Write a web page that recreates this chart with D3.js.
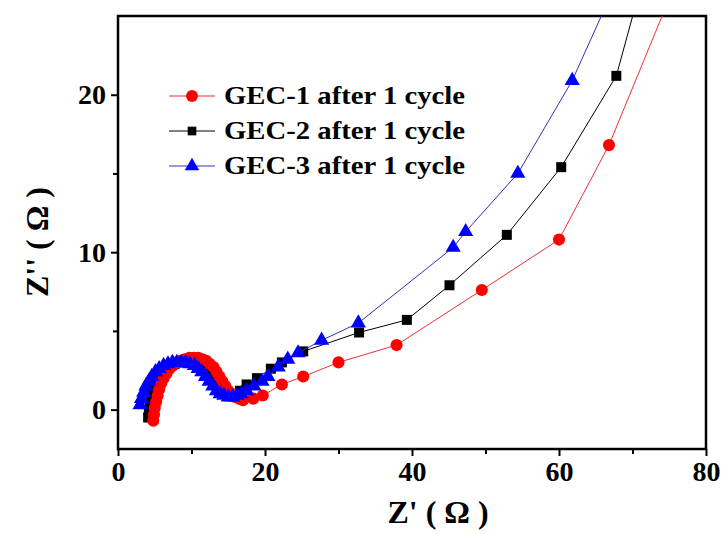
<!DOCTYPE html>
<html>
<head>
<meta charset="utf-8">
<script src="https://cdn.jsdelivr.net/npm/d3@7"></script>
<style>
  body { margin: 0; background: #fff; }
  text { font-family: "Liberation Serif", "Times New Roman", serif; font-weight: bold; }
</style>
</head>
<body>
<div id="chart"></div>
<script>
// Nyquist data: [Z', -Z'']
const gec1 = [[4.8,-0.7],[4.9,-0.3],[5.0,0.1],[5.2,0.5],[5.4,0.9],[5.6,1.3],[5.9,1.7],[6.2,2.0],[6.6,2.3],[7.0,2.6],[7.5,2.8],[8.0,3.0],[8.5,3.1],[9.1,3.2],[9.7,3.3],[10.3,3.3],[10.9,3.3],[11.5,3.2],[12.0,3.1],[12.5,2.9],[13.0,2.7],[13.4,2.4],[13.8,2.1],[14.2,1.8],[14.6,1.5],[15.0,1.2],[15.4,1.0],[15.9,0.8],[16.5,0.7],[17.0,0.6],[18.4,0.7],[19.7,0.9],[22.3,1.6],[25.2,2.1],[30.0,3.0],[37.9,4.1],[49.5,7.6],[60.0,10.8],[66.8,16.8],[76.5,27.8]];
const gec2 = [[4.1,-0.5],[4.2,-0.1],[4.3,0.3],[4.5,0.7],[4.7,1.1],[5.0,1.5],[5.3,1.8],[5.7,2.1],[6.1,2.4],[6.6,2.6],[7.1,2.8],[7.7,2.9],[8.3,3.0],[8.9,3.0],[9.5,3.0],[10.1,3.0],[10.7,2.9],[11.3,2.8],[11.8,2.6],[12.3,2.4],[12.8,2.1],[13.2,1.8],[13.7,1.5],[14.2,1.3],[14.7,1.1],[15.3,1.0],[15.9,1.0],[16.6,1.2],[17.5,1.6],[18.9,2.0],[20.8,2.6],[22.3,3.0],[25.2,3.7],[32.8,4.9],[39.3,5.7],[45.1,7.9],[52.9,11.1],[60.3,15.4],[67.8,21.2],[71.2,27.0]];
const gec3 = [[3.0,0.3],[3.2,0.7],[3.5,1.1],[3.8,1.5],[4.2,1.8],[4.6,2.1],[5.1,2.4],[5.6,2.6],[6.2,2.8],[6.8,2.9],[7.4,3.0],[8.0,3.0],[8.6,3.0],[9.2,3.0],[9.8,2.9],[10.4,2.8],[10.9,2.6],[11.4,2.4],[11.9,2.1],[12.4,1.8],[12.9,1.5],[13.4,1.2],[13.9,1.0],[14.4,0.9],[15.0,0.8],[15.6,0.8],[16.2,0.9],[16.8,1.0],[17.5,1.2],[18.5,1.5],[19.6,1.8],[20.4,2.1],[21.8,2.7],[23.1,3.2],[24.5,3.6],[27.7,4.4],[32.7,5.5],[45.6,10.3],[47.3,11.3],[54.4,15.0],[61.8,20.9],[67.5,26.8]];

const seriesNames = ["GEC-1 after 1 cycle", "GEC-2 after 1 cycle", "GEC-3 after 1 cycle"];
const xTicks = [0, 20, 40, 60, 80];
const yTicks = [0, 10, 20];

const width = 721, height = 534;
const margin = {left: 118, right: 15, top: 16, bottom: 85};

const x = d3.scaleLinear().domain([0, 80]).range([margin.left, width - margin.right]);
const y = d3.scaleLinear().domain([-2.5, 25]).range([height - margin.bottom, margin.top]);

const svg = d3.select("#chart").append("svg")
    .attr("width", width)
    .attr("height", height);

svg.append("defs").append("clipPath").attr("id", "plot")
  .append("rect")
    .attr("x", x(0)).attr("y", y(25))
    .attr("width", x(80) - x(0)).attr("height", y(-2.5) - y(25));

// axes
svg.append("g")
    .attr("transform", `translate(0,${y(-2.5)})`)
    .call(d3.axisBottom(x).tickValues(xTicks).tickSize(7).tickPadding(5).tickFormat(d3.format("d")));
svg.append("g")
    .attr("transform", `translate(${x(0)},0)`)
    .call(d3.axisLeft(y).tickValues(yTicks).tickSize(7).tickPadding(5).tickFormat(d3.format("d")));

// minor ticks
svg.append("g")
    .attr("transform", `translate(0,${y(-2.5)})`)
    .call(d3.axisBottom(x).tickValues([10, 30, 50, 70]).tickSize(5).tickFormat(""));
svg.append("g")
    .attr("transform", `translate(${x(0)},0)`)
    .call(d3.axisLeft(y).tickValues([5, 15]).tickSize(5).tickFormat(""));

svg.selectAll(".domain").remove();
svg.selectAll(".tick line").attr("stroke", "#000").attr("stroke-width", 2);
svg.selectAll(".tick text").attr("font-size", 28).attr("fill", "#000")
    .style("font-family", "'Liberation Serif', serif").style("font-weight", "bold");

// frame
svg.append("rect")
    .attr("x", x(0)).attr("y", y(25))
    .attr("width", x(80) - x(0)).attr("height", y(-2.5) - y(25))
    .attr("fill", "none").attr("stroke", "#000").attr("stroke-width", 2.5);

// axis titles
svg.append("text")
    .attr("x", 438).attr("y", 523)
    .attr("text-anchor", "middle").attr("font-size", 32)
    .text("Z' ( \u03A9 )");
svg.append("text")
    .attr("transform", `translate(48,242) rotate(-90)`)
    .attr("text-anchor", "middle").attr("font-size", 32)
    .text("Z'' ( \u03A9 )");

const line = d3.line().x(d => x(d[0])).y(d => y(d[1]));

const styles = [
  {data: gec2, line: "#000", fill: "#000", shape: d3.symbolSquare, size: 100},
  {data: gec1, line: "#ee3030", fill: "#ff0000", shape: d3.symbolCircle, size: 115},
  {data: gec3, line: "#3030c0", fill: "#0000ff", shape: d3.symbolTriangle, size: 100}
];

const plot = svg.append("g").attr("clip-path", "url(#plot)");
styles.forEach(s => {
  plot.append("path").datum(s.data)
      .attr("fill", "none").attr("stroke", s.line).attr("stroke-width", 1)
      .attr("d", line);
  plot.selectAll(null).data(s.data).enter().append("path")
      .attr("transform", d => `translate(${x(d[0])},${y(d[1])})`)
      .attr("d", d3.symbol().type(s.shape).size(s.size))
      .attr("fill", s.fill);
});

// legend
const legend = [
  {name: seriesNames[0], line: "#ee3030", fill: "#ff0000", shape: d3.symbolCircle, size: 110},
  {name: seriesNames[1], line: "#000", fill: "#000", shape: d3.symbolSquare, size: 75},
  {name: seriesNames[2], line: "#3030c0", fill: "#0000ff", shape: d3.symbolTriangle, size: 90}
];
legend.forEach((l, i) => {
  const ly = 96 + i * 35;
  const g = svg.append("g");
  g.append("line").attr("x1", 169).attr("x2", 215).attr("y1", ly).attr("y2", ly)
      .attr("stroke", l.line).attr("stroke-width", 1);
  g.append("path").attr("transform", `translate(192,${ly})`)
      .attr("d", d3.symbol().type(l.shape).size(l.size)).attr("fill", l.fill);
  g.append("text").attr("x", 224).attr("y", ly + 8)
      .attr("font-size", 25)
      .attr("textLength", 241).attr("lengthAdjust", "spacingAndGlyphs")
      .text(l.name);
});
</script>
</body>
</html>
